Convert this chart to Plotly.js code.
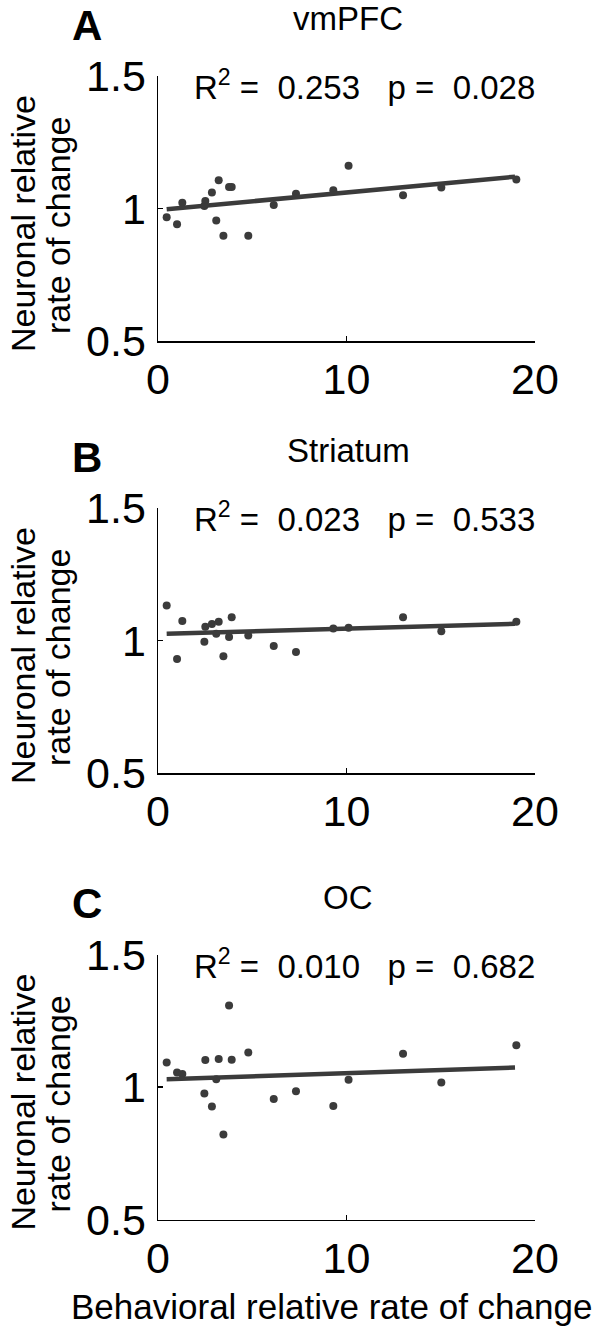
<!DOCTYPE html>
<html>
<head>
<meta charset="utf-8">
<script src="https://cdn.plot.ly/plotly-3.0.1.min.js"></script>
<style>
  html, body { margin: 0; padding: 0; background: #fff; }
  #chart { width: 600px; height: 1330px; }
</style>
</head>
<body>
<div id="chart"></div>
<script>
/* ---- data ---- */
const behavioral = [0.46, 1.01, 1.29, 2.46, 2.51, 2.86, 3.09, 3.22, 3.47, 3.77,
                    3.91, 4.79, 6.14, 7.32, 9.30, 10.11, 13.0, 15.03, 19.01];

const vmpfc    = [0.967, 0.941, 1.022, 1.009, 1.028, 1.060, 0.955, 1.107, 0.897, 1.081,
                  1.081, 0.897, 1.013, 1.056, 1.069, 1.161, 1.050, 1.079, 1.109];
const striatum = [1.132, 0.930, 1.074, 0.995, 1.052, 1.062, 1.025, 1.071, 0.941, 1.013,
                  1.088, 1.019, 0.979, 0.957, 1.045, 1.048, 1.088, 1.035, 1.071];
const oc       = [1.093, 1.055, 1.049, 0.976, 1.102, 0.927, 1.030, 1.106, 0.821, 1.308,
                  1.103, 1.131, 0.955, 0.984, 0.929, 1.028, 1.126, 1.017, 1.158];

// fitted line end points
const fitX = [0.46, 18.94];
const fitVmpfc    = [0.997, 1.120];
const fitStriatum = [1.025, 1.063];
const fitOc       = [1.030, 1.074];

const panelNames = ['vmPFC', 'Striatum', 'OC'];
const panelLetters = ['A', 'B', 'C'];
const rSquared = ['0.253', '0.023', '0.010'];
const pValues = ['0.028', '0.533', '0.682'];

const xTicks = [0, 10, 20];
const yTicks = [0.5, 1, 1.5];
const yTickText = ['0.5', '1', '1.5'];

/* ---- geometry (pixels in the 600x1330 frame) ---- */
const W = 600, H = 1330;
const fx = (px) => px / W;
const fy = (py) => 1 - py / H;
const plotLeft = 158, plotRight = 535;
const panelTop = [76, 508, 954.6];   // pixel row of y = 1.5
const panelH = 265;

const FONT = 'Liberation Sans, Arial, Helvetica, sans-serif';
const INK = '#3b3b3b';

const series = [vmpfc, striatum, oc];
const fits = [fitVmpfc, fitStriatum, fitOc];

const traces = [];
const layout = {
  width: W, height: H,
  margin: { l: 0, r: 0, t: 0, b: 0 },
  paper_bgcolor: '#fff', plot_bgcolor: '#fff',
  showlegend: false,
  font: { family: FONT, color: '#000' },
  annotations: []
};

const axisStyle = {
  showgrid: false, zeroline: false, showline: true,
  linecolor: '#000', linewidth: 1.5,
  ticks: 'inside', ticklen: 5, tickwidth: 1.5, tickcolor: '#000',
  tickfont: { family: FONT, size: 43, color: '#000' }
};

panelNames.forEach((name, i) => {
  const sfx = i === 0 ? '' : String(i + 1);
  const top = panelTop[i];

  layout['xaxis' + sfx] = Object.assign({}, axisStyle, {
    domain: [fx(plotLeft), fx(plotRight)], anchor: 'y' + sfx,
    range: [0, 20], tickvals: xTicks, ticktext: xTicks.map(String)
  });
  layout['yaxis' + sfx] = Object.assign({}, axisStyle, {
    domain: [fy(top + panelH), fy(top)], anchor: 'x' + sfx,
    range: [0.5, 1.5], tickvals: yTicks, ticktext: yTickText, ticklabelstandoff: 2
  });

  traces.push({
    x: behavioral, y: series[i], xaxis: 'x' + sfx, yaxis: 'y' + sfx,
    type: 'scatter', mode: 'markers', cliponaxis: false,
    marker: { color: INK, size: 8 }, hoverinfo: 'skip'
  });
  traces.push({
    x: fitX, y: fits[i], xaxis: 'x' + sfx, yaxis: 'y' + sfx,
    type: 'scatter', mode: 'lines',
    line: { color: INK, width: 4.5 }, hoverinfo: 'skip'
  });

  const ann = (text, x, y, size, extra) => layout.annotations.push(Object.assign({
    text, xref: 'paper', yref: 'paper', x: fx(x), y: fy(y),
    xanchor: 'center', yanchor: 'middle', showarrow: false,
    font: { family: FONT, size, color: '#000' }
  }, extra || {}));

  // panel letter and region title
  ann('<b>' + panelLetters[i] + '</b>', 87, top - 51, 42);
  ann(name, 348, top - 57, 33);
  // statistics
  ann('R<sup>2</sup> =  ' + rSquared[i] + '   p =  ' + pValues[i], 364, top + 9, 33);
  // y title, one rotated line each so the spacing stays tight
  ann('Neuronal relative', 23, top + 148, 34, { textangle: -90 });
  ann('rate of change', 58, top + 150, 34, { textangle: -90 });
});

// shared x title
layout.annotations.push({
  text: 'Behavioral relative rate of change', xref: 'paper', yref: 'paper',
  x: fx(331), y: fy(1306), xanchor: 'center', yanchor: 'middle', showarrow: false,
  font: { family: FONT, size: 35, color: '#000' }
});

Plotly.newPlot('chart', traces, layout, { staticPlot: true, displayModeBar: false });
</script>
</body>
</html>
